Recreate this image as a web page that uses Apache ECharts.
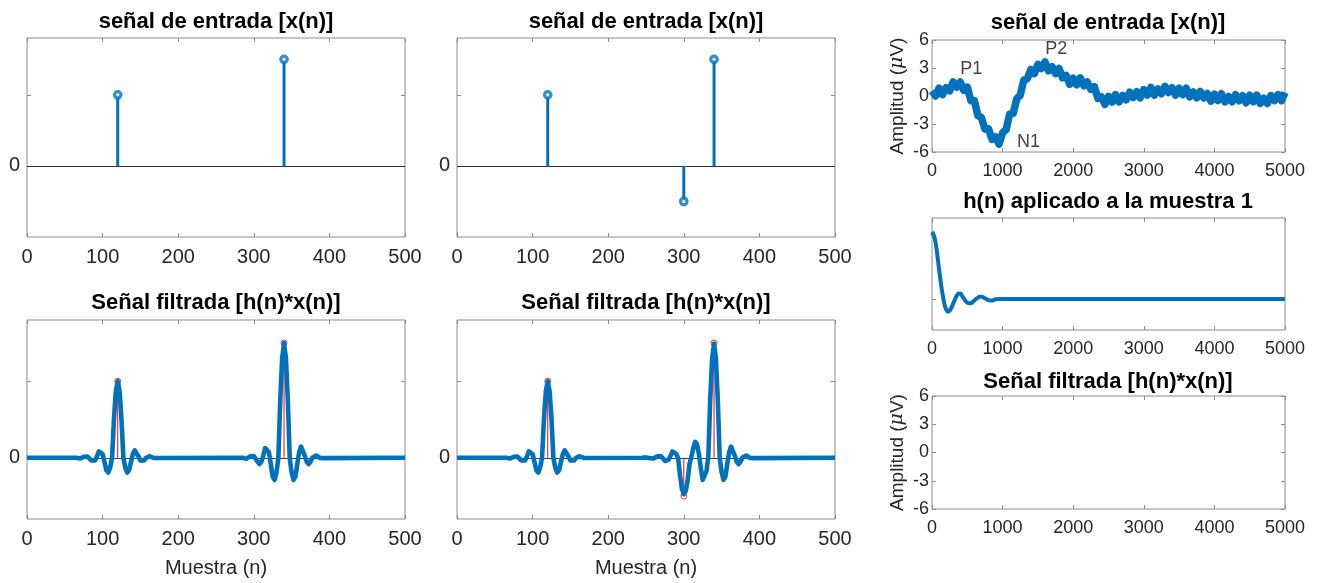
<!DOCTYPE html>
<html><head><meta charset="utf-8">
<script src="https://cdn.jsdelivr.net/npm/echarts@6/dist/echarts.min.js"></script>
<style>html,body{margin:0;padding:0;background:#fff}#c{width:1317px;height:583px}</style>
</head><body><div id="c"></div>
<script>
// ---------------- DATA ----------------
// input impulses
const stemN1 = [120, 340];
const stemV1 = [1, 1.5];
const stemN2 = [120, 300, 340];
const stemV2 = [1, -0.5, 1.5];

// filtered signal, panel 1
const filtA_n = [0,
 65,67.5,70,72.5,75,77.5,80,82.5,85,87.5,90,92.5,95,97.5,100,102.5,105,107.5,110,112.5,115,117.5,120,
 122.5,125,127.5,130,132.5,135,137.5,140,142.5,145,147.5,150,152.5,155,157.5,160,162.5,165,167.5,170,172.5,175,
 285,287.5,290,292.5,295,297.5,300,302.5,305,307.5,310,312.5,315,317.5,320,322.5,325,327.5,330,332.5,335,337.5,340,
 342.5,345,347.5,350,352.5,355,357.5,360,362.5,365,367.5,370,372.5,375,377.5,380,382.5,385,387.5,390,392.5,395,
 500];
const filtA_v = [0,
 0,-0.003,-0.01,-0.002,0.012,0.02,0.016,0,-0.035,-0.055,-0.035,0.017,0.084,0.097,0.048,-0.055,-0.164,-0.193,-0.128,0,0.5,0.866,1,
 0.866,0.5,0,-0.128,-0.193,-0.164,-0.055,0.048,0.097,0.084,0.017,-0.035,-0.055,-0.035,0,0.016,0.02,0.012,-0.002,-0.01,-0.003,0,
 0,-0.005,-0.015,-0.003,0.018,0.03,0.024,0,-0.053,-0.083,-0.053,0.026,0.126,0.146,0.072,-0.083,-0.246,-0.29,-0.192,0,0.75,1.299,1.5,
 1.299,0.75,0,-0.192,-0.29,-0.246,-0.083,0.072,0.146,0.126,0.026,-0.053,-0.083,-0.053,0,0.024,0.03,0.018,-0.003,-0.015,-0.005,0,
 0];

// filtered signal, panel 2
const filtB_n = [0,
 65,67.5,70,72.5,75,77.5,80,82.5,85,87.5,90,92.5,95,97.5,100,102.5,105,107.5,110,112.5,115,117.5,120,
 122.5,125,127.5,130,132.5,135,137.5,140,142.5,145,147.5,150,152.5,155,157.5,160,162.5,165,167.5,170,172.5,175,
 245,247.5,250,252.5,255,257.5,260,262.5,265,267.5,270,272.5,275,277.5,280,282.5,
 285,287.5,290,292.5,295,297.5,300,302.5,305,307.5,310,312.5,315,317.5,320,322.5,325,327.5,330,332.5,335,337.5,340,
 342.5,345,347.5,350,352.5,355,357.5,360,362.5,365,367.5,370,372.5,375,377.5,380,382.5,385,387.5,390,392.5,395,
 500];
const filtB_v = [0,
 0,-0.003,-0.01,-0.002,0.012,0.02,0.016,0,-0.035,-0.055,-0.035,0.017,0.084,0.097,0.048,-0.055,-0.164,-0.193,-0.128,0,0.5,0.866,1,
 0.866,0.5,0,-0.128,-0.193,-0.164,-0.055,0.048,0.097,0.084,0.017,-0.035,-0.055,-0.035,0,0.016,0.02,0.012,-0.002,-0.01,-0.003,0,
 0,0.002,0.005,0.001,-0.006,-0.01,-0.008,0,0.018,0.028,0.018,-0.009,-0.042,-0.049,-0.024,0.028,
 0.082,0.092,0.049,-0.003,-0.232,-0.403,-0.476,-0.433,-0.303,-0.083,0.011,0.123,0.208,0.174,0.048,-0.132,-0.288,-0.299,-0.175,0.028,0.768,1.299,1.492,
 1.289,0.744,0.001,-0.187,-0.289,-0.246,-0.083,0.072,0.146,0.126,0.026,-0.053,-0.083,-0.053,0,0.024,0.03,0.018,-0.003,-0.015,-0.005,0,
 0];

// EEG input signal (µV)
const eegN = [0,50,100,150,200,250,300,350,400,450,500,550,600,650,700,750,800,850,900,950,
 1000,1050,1100,1150,1200,1250,1300,1350,1400,1450,1500,1550,1600,1650,1700,1750,1800,1850,1900,1950,
 2000,2050,2100,2150,2200,2250,2300,2350,2400,2450,2500,2550,2600,2650,2700,2750,2800,2850,2900,2950,
 3000,3050,3100,3150,3200,3250,3300,3350,3400,3450,3500,3550,3600,3650,3700,3750,3800,3850,3900,3950,
 4000,4050,4100,4150,4200,4250,4300,4350,4400,4450,4500,4550,4600,4650,4700,4750,4800,4850,4900,4950,5000];
const eegV = [0.55,0.0,0.85,0.15,0.9,0.55,1.5,0.95,1.5,0.6,0.95,-0.5,-0.5,-2.1,-2.3,-3.55,-3.5,-4.65,-4.4,-5.15,
 -3.95,-3.6,-1.95,-1.85,-0.3,0.1,1.7,1.85,2.85,2.4,3.4,2.95,3.65,2.7,3.15,2.4,2.95,1.95,2.2,1.25,
 1.9,1.2,1.95,1.1,1.5,0.7,1.0,-0.25,-0.1,-0.9,-0.05,-0.65,0.15,-0.62,0.05,-0.41,0.4,-0.16,0.47,-0.2,
 0.68,0.1,0.91,0.1,0.75,0.25,1.03,0.37,0.88,0.09,0.85,0.15,0.83,-0.1,0.43,-0.19,0.49,-0.22,0.27,-0.54,
 0.2,-0.49,0.24,-0.63,-0.05,-0.62,0.13,-0.52,0.03,-0.72,0.08,-0.61,0.1,-0.8,-0.24,-0.8,0.05,-0.5,0.15,-0.5,0.37];
const annText = ['P1', 'P2', 'N1'];
const annN = [400, 1603, 1203];
const annV = [2.88, 4.98, -4.92];

// impulse response h(n)
const hN = [0,25,50,75,100,125,150,175,200,225,250,275,300,325,350,375,400,425,450,475,500,525,550,575,600,625,650,675,700,725,750,775,800,825,850,875,900,950,5000];
const hV = [2.15,2.05,1.82,1.42,0.95,0.52,0.15,-0.15,-0.34,-0.41,-0.38,-0.28,-0.15,-0.02,0.1,0.17,0.17,0.1,0.02,-0.07,-0.12,-0.14,-0.14,-0.1,-0.05,0,0.04,0.07,0.07,0.05,0.02,-0.01,-0.04,-0.05,-0.05,-0.03,-0.01,0,0];

// ---------------- STYLE ----------------
const BLUE = '#0072BD', RED = '#FF0000', BOX = '#8c8c8c', TXT = '#262626';
const FONT = '"Liberation Sans", Arial, Helvetica, sans-serif';

const grids = [
  {left: 27, top: 38, width: 378, height: 199},
  {left: 457, top: 38, width: 378, height: 199},
  {left: 27, top: 320, width: 378, height: 199},
  {left: 457, top: 320, width: 378, height: 199},
  {left: 932, top: 40, width: 353, height: 112},
  {left: 932, top: 218, width: 353, height: 112},
  {left: 932, top: 396, width: 353, height: 113}
].map(g => Object.assign({show: true, borderColor: BOX, borderWidth: 1, backgroundColor: '#fff'}, g));

const xAxes = [], yAxes = [];
const plain = v => String(v);
function axes(gi, xr, yr, opt) {
  const tick = {inside: true, length: 4, lineStyle: {color: BOX, width: 1}};
  const noLine = {show: false, onZero: false};
  const xb = {gridIndex: gi, type: 'value', min: xr[0], max: xr[1], interval: xr[2], position: 'bottom',
    axisLine: noLine, splitLine: {show: false}, axisTick: tick,
    axisLabel: {fontSize: opt.fs, color: TXT, fontFamily: FONT, margin: opt.xm, formatter: plain}};
  if (opt.xname) {
    Object.assign(xb, {name: opt.xname, nameLocation: 'middle', nameGap: opt.xng,
      nameTextStyle: {fontSize: 20, color: TXT, fontFamily: FONT}});
  }
  xAxes.push(xb);
  xAxes.push({gridIndex: gi, type: 'value', min: xr[0], max: xr[1], interval: xr[2], position: 'top',
    axisLine: noLine, splitLine: {show: false}, axisTick: tick, axisLabel: {show: false}});
  const yl = {gridIndex: gi, type: 'value', min: yr[0], max: yr[1], position: 'left',
    axisLine: noLine, splitLine: {show: false},
    axisTick: Object.assign({customValues: yr[2]}, tick),
    axisLabel: {customValues: yr[3], fontSize: opt.fs, color: TXT, fontFamily: FONT, margin: opt.ym, formatter: plain}};
  if (opt.yname) {
    Object.assign(yl, {name: '{a|Amplitud (}{m|μ}{a|V)}', nameLocation: 'middle', nameGap: opt.yng, nameRotate: 90,
      nameTextStyle: {rich: {a: {fontSize: 19, color: TXT, fontFamily: FONT},
        m: {fontSize: 19, color: TXT, fontFamily: '"DejaVu Serif", serif', fontStyle: 'italic'}}}});
  }
  yAxes.push(yl);
  yAxes.push({gridIndex: gi, type: 'value', min: yr[0], max: yr[1], position: 'right',
    axisLine: noLine, splitLine: {show: false},
    axisTick: Object.assign({customValues: yr[2]}, tick), axisLabel: {show: false}});
}
axes(0, [0, 500, 100], [-1, 1.8, [0, 1], [0]], {fs: 20, xm: 10, ym: 7});
axes(1, [0, 500, 100], [-1, 1.8, [0, 1], [0]], {fs: 20, xm: 10, ym: 7});
axes(2, [0, 500, 100], [-0.8, 1.8, [0, 1], [0]], {fs: 20, xm: 10, ym: 7, xname: 'Muestra (n)', xng: 39});
axes(3, [0, 500, 100], [-0.8, 1.8, [0, 1], [0]], {fs: 20, xm: 10, ym: 7, xname: 'Muestra (n)', xng: 39});
axes(4, [0, 5000, 1000], [-6, 6, [-6, -3, 0, 3, 6], [-6, -3, 0, 3, 6]], {fs: 18, xm: 10, ym: 3, yname: true, yng: 25});
axes(5, [0, 5000, 1000], [-1, 2.6, [0], []], {fs: 18, xm: 10, ym: 3});
axes(6, [0, 5000, 1000], [-6, 6, [-6, -3, 0, 3, 6], [-6, -3, 0, 3, 6]], {fs: 18, xm: 10, ym: 3, yname: true, yng: 25});

const zip = (a, b) => a.map((v, i) => [v, b[i]]);
const zeroLine = (color) => ({silent: true, symbol: ['none', 'none'], z: 1, label: {show: false},
  lineStyle: {color: color, width: 1, type: 'solid'}, emphasis: {disabled: true}, data: [{yAxis: 0}]});

const series = [];
// top stem panels
[[0, stemN1, stemV1], [1, stemN2, stemV2]].forEach(([g, n, v]) => {
  series.push({type: 'bar', xAxisIndex: 2 * g, yAxisIndex: 2 * g, data: zip(n, v), barWidth: 3, z: 3,
    itemStyle: {color: BLUE}, silent: true, markLine: zeroLine('#333333')});
  series.push({type: 'scatter', xAxisIndex: 2 * g, yAxisIndex: 2 * g, data: zip(n, v), symbol: 'circle', symbolSize: 6.5, z: 4,
    itemStyle: {color: '#ffffff', borderColor: BLUE, borderWidth: 3.2}, silent: true});
});
// filtered panels
[[2, stemN1, stemV1, filtA_n, filtA_v], [3, stemN2, stemV2, filtB_n, filtB_v]].forEach(([g, n, v, fn, fv]) => {
  series.push({type: 'bar', xAxisIndex: 2 * g, yAxisIndex: 2 * g, data: zip(n, v), barWidth: 1, z: 2,
    itemStyle: {color: RED}, silent: true, markLine: zeroLine('#444444')});
  series.push({type: 'scatter', xAxisIndex: 2 * g, yAxisIndex: 2 * g, data: zip(n, v), symbol: 'circle', symbolSize: 6, z: 2,
    itemStyle: {color: 'rgba(0,0,0,0)', borderColor: RED, borderWidth: 1}, silent: true});
  series.push({type: 'line', xAxisIndex: 2 * g, yAxisIndex: 2 * g, data: zip(fn, fv), showSymbol: false, z: 5,
    lineStyle: {color: BLUE, width: 4.6, join: 'round'}, silent: true});
});
// EEG
series.push({type: 'line', xAxisIndex: 8, yAxisIndex: 8, data: zip(eegN, eegV), showSymbol: false, z: 3,
  lineStyle: {color: BLUE, width: 7.5, join: 'round'}, silent: true});
series.push({type: 'scatter', xAxisIndex: 8, yAxisIndex: 8, symbolSize: 0, z: 6, silent: true,
  data: annN.map((x, i) => ({value: [x, annV[i]], name: annText[i]})),
  label: {show: true, position: 'right', distance: 0, formatter: p => p.name,
    fontSize: 18, color: '#111', fontFamily: FONT}});
// h(n)
series.push({type: 'line', xAxisIndex: 10, yAxisIndex: 10, data: zip(hN, hV), showSymbol: false, smooth: 0.4, z: 3,
  lineStyle: {color: BLUE, width: 4}, silent: true});
// empty filtered EEG panel
series.push({type: 'line', xAxisIndex: 12, yAxisIndex: 12, data: [], showSymbol: false});

const titleStyle = {fontSize: 22, fontWeight: 'bold', fill: '#000', fontFamily: FONT, align: 'center', verticalAlign: 'middle'};
const titles = [
  ['señal de entrada [x(n)]', 216, 22], ['señal de entrada [x(n)]', 646, 22],
  ['Señal filtrada [h(n)*x(n)]', 216, 303], ['Señal filtrada [h(n)*x(n)]', 646, 303],
  ['señal de entrada [x(n)]', 1108, 23], ['h(n) aplicado a la muestra 1', 1108, 202],
  ['Señal filtrada [h(n)*x(n)]', 1108, 382]
];

const chart = echarts.init(document.getElementById('c'), null, {renderer: 'canvas'});
chart.setOption({
  animation: false,
  backgroundColor: '#ffffff',
  grid: grids,
  xAxis: xAxes,
  yAxis: yAxes,
  series: series,
  graphic: titles.map(t => ({type: 'text', x: t[1], y: t[2], silent: true,
    style: Object.assign({text: t[0]}, titleStyle)}))
});
</script></body></html>
